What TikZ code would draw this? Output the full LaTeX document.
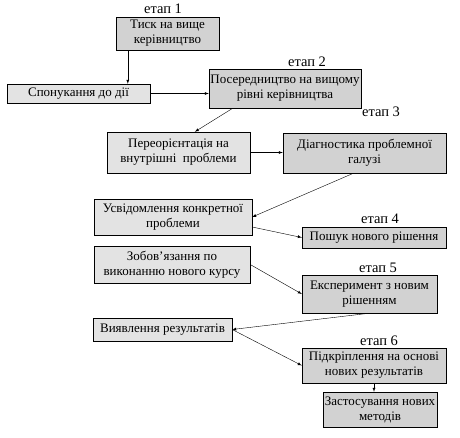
\documentclass[tikz,border=0pt]{standalone}
\usepackage{fontspec}
\setmainfont{Liberation Serif}
\usepackage{tikz}
\usetikzlibrary{arrows, shadows}

\begin{document}
\begin{tikzpicture}[x=1pt, y=-1pt, >=latex,
    box/.style={draw, rectangle, fill=gray!22, inner sep=1pt, align=center,
        font=\fontsize{13}{15}\selectfont,
        drop shadow={shadow xshift=0.8pt, shadow yshift=-0.8pt, fill=black, opacity=0.8}},
    stagebox/.style={box, fill=gray!35},
    stagelabel/.style={font=\fontsize{14.5}{16}\selectfont}]
    \useasboundingbox (0,0) rectangle (460,437);

    \node [stagebox, minimum width=103pt, minimum height=33pt] (tysk) at (167.5,33.5) {Тиск на вище\\керівництво};
    \node [box, minimum width=143pt, minimum height=19pt] (sponuk) at (78.5,93.5) {Спонукання до дії};
    \node [stagebox, minimum width=152pt, minimum height=39pt] (poser) at (285,88.5) {Посередництво на вищому\\рівні керівництва};
    \node [box, minimum width=143pt, minimum height=41pt] (pereor) at (178.5,152.5) {Переорієнтація на\\внутрішні\ \ проблеми};
    \node [stagebox, minimum width=163pt, minimum height=40pt] (diagn) at (364.5,153) {Діагностика проблемної\\галузі};
    \node [box, minimum width=158pt, minimum height=36pt] (usvid) at (173,217) {Усвідомлення конкретної\\проблеми};
    \node [stagebox, minimum width=144pt, minimum height=21pt] (poshuk) at (374,237.5) {Пошук нового рішення};
    \node [box, minimum width=156pt, minimum height=37pt] (zobov) at (172,264.5) {Зобов'язання по\\виконанню нового курсу};
    \node [stagebox, minimum width=135pt, minimum height=38pt] (eksper) at (369.5,294) {Експеримент з новим\\рішенням};
    \node [box, minimum width=139pt, minimum height=23pt] (vyavl) at (162.5,329.5) {Виявлення результатів};
    \node [stagebox, minimum width=144pt, minimum height=35pt] (pidkr) at (374,365.5) {Підкріплення на основі\\нових результатів};
    \node [stagebox, minimum width=114pt, minimum height=35pt] (zastos) at (380,409.5) {Застосування нових\\методів};

    % етапи
    \node [stagelabel] (et1) at (163,9) {етап 1};
    \node [stagelabel] (et2) at (307,62) {етап 2};
    \node [stagelabel] (et3) at (381,112) {етап 3};
    \node [stagelabel] (et4) at (380,219) {етап 4};
    \node [stagelabel] (et5) at (378,268) {етап 5};
    \node [stagelabel] (et6) at (379,341) {етап 6};

    \draw [->] ([xshift=12pt]tysk.south west) -- ([xshift=12pt]tysk.south west |- sponuk.north);
    \draw [->] (sponuk.east) -- (sponuk.east -| poser.west);
    \draw [->] ([xshift=24pt]poser.south west) -- ([xshift=88pt]pereor.north west);
    \draw [->] (pereor.east) -- (pereor.east -| diagn.west);
    \draw [->] ([xshift=-11pt]diagn.south) -- (usvid.east);
    \draw [->] ([yshift=-10pt]usvid.east) -- (poshuk.west);
    \draw [->] (zobov.east) -- (eksper.west);
    \draw [->] (eksper.south) -- (vyavl.east);
    \draw [->] (vyavl.east) -- (pidkr.west);
    \draw [->] (pidkr.south) -- (pidkr.south |- zastos.north);
\end{tikzpicture}
\end{document}
